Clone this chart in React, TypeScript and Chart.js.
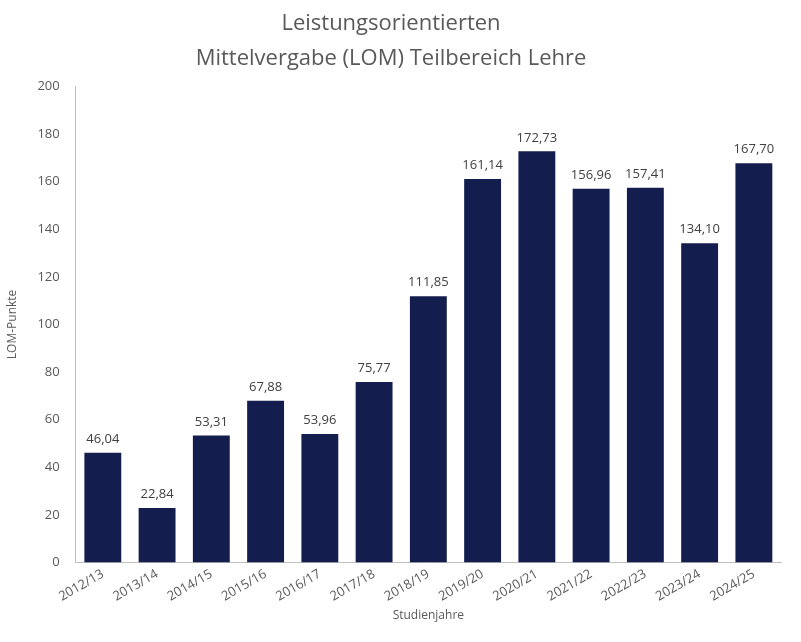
import React, { useEffect, useRef } from 'react';
import Chart from 'chart.js/auto';

const years = ['2012/13', '2013/14', '2014/15', '2015/16', '2016/17', '2017/18', '2018/19', '2019/20', '2020/21', '2021/22', '2022/23', '2023/24', '2024/25'];
const points = [46.04, 22.84, 53.31, 67.88, 53.96, 75.77, 111.85, 161.14, 172.73, 156.96, 157.41, 134.1, 167.7];
const titleLines = ['Leistungsorientierten', 'Mittelvergabe (LOM) Teilbereich Lehre'];

const FONT = '"Open Sans", "Noto Sans", sans-serif';

const valueLabels = {
	id: 'valueLabels',
	afterDatasetsDraw(chart: any) {
		const ctx = chart.ctx;
		const meta = chart.getDatasetMeta(0);
		ctx.save();
		ctx.font = `13px ${FONT}`;
		ctx.fillStyle = '#404040';
		ctx.textAlign = 'center';
		ctx.textBaseline = 'bottom';
		meta.data.forEach((bar: any, i: number) => {
			const text = points[i].toFixed(2).replace('.', ',');
			ctx.fillText(text, bar.x, bar.y - 7);
		});
		ctx.restore();
	}
};

export default function App() {
	const chartRef = useRef<HTMLCanvasElement>(null);
	const chartInstance = useRef<Chart | null>(null);

	useEffect(() => {
		document.body.style.margin = '0';
		if (chartInstance.current) chartInstance.current.destroy();
		if (!chartRef.current) return;
		const ctx = chartRef.current.getContext('2d');
		if (!ctx) return;

		chartInstance.current = new Chart(ctx, {
			type: 'bar',
			data: {
				labels: years,
				datasets: [
					{
						data: points,
						backgroundColor: '#141e4e',
						barPercentage: 0.68,
						categoryPercentage: 1
					}
				]
			},
			options: {
				animation: false,
				responsive: true,
				maintainAspectRatio: false,
				layout: { padding: { left: 1, right: 20, top: 6, bottom: 15 } },
				plugins: {
					legend: { display: false },
					tooltip: { enabled: false },
					title: {
						display: true,
						text: titleLines,
						color: '#595959',
						font: { family: FONT, size: 22, weight: 'normal', lineHeight: 1.6 },
						padding: { top: 0, bottom: 10 }
					}
				},
				scales: {
					x: {
						grid: { display: false, drawTicks: false },
						border: { color: '#bfbfbf' },
						ticks: {
							color: '#595959',
							font: { family: FONT, size: 13 },
							maxRotation: 30,
							minRotation: 30,
							padding: 4
						},
						title: {
							display: true,
							text: 'Studienjahre',
							color: '#595959',
							font: { family: FONT, size: 12 },
							padding: { top: 0 }
						}
					},
					y: {
						min: 0,
						max: 200,
						grid: { display: false },
						border: { color: '#bfbfbf' },
						ticks: {
							stepSize: 20,
							color: '#595959',
							font: { family: FONT, size: 13 },
							padding: 8
						},
						title: {
							display: true,
							text: 'LOM-Punkte',
							color: '#595959',
							font: { family: FONT, size: 12 },
							padding: { bottom: 10 }
						}
					}
				}
			},
			plugins: [valueLabels]
		});

		return () => {
			if (chartInstance.current) chartInstance.current.destroy();
		};
	}, []);

	return (
		<div style={{ position: 'relative', width: '801px', height: '642px', background: '#fff' }}>
			<canvas ref={chartRef}></canvas>
		</div>
	);
}
